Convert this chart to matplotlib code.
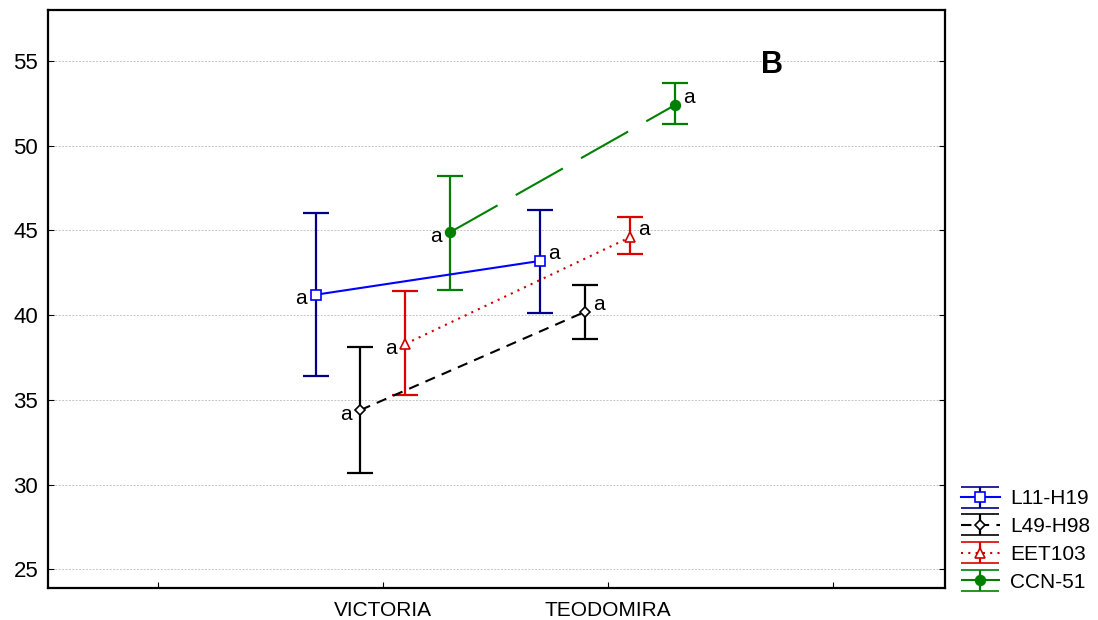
import matplotlib
matplotlib.use('Agg')
import matplotlib.pyplot as plt

plt.rcParams['font.family'] = ['Liberation Sans', 'DejaVu Sans']

sites = ['VICTORIA', 'TEODOMIRA']
clones = ['L11-H19', 'L49-H98', 'EET103', 'CCN-51']
means = {
    'L11-H19': [41.2, 43.2],
    'L49-H98': [34.4, 40.2],
    'EET103': [38.3, 44.6],
    'CCN-51': [44.9, 52.4],
}
lower = {
    'L11-H19': [36.4, 40.1],
    'L49-H98': [30.7, 38.6],
    'EET103': [35.3, 43.6],
    'CCN-51': [41.5, 51.3],
}
upper = {
    'L11-H19': [46.0, 46.2],
    'L49-H98': [38.1, 41.8],
    'EET103': [41.4, 45.8],
    'CCN-51': [48.2, 53.7],
}
letters = {
    'L11-H19': ['a', 'a'],
    'L49-H98': ['a', 'a'],
    'EET103': ['a', 'a'],
    'CCN-51': ['a', 'a'],
}

# styling per clone
offsets = [-0.3, -0.1, 0.1, 0.3]
line_col = ['#0000ff', 'black', '#cc0000', '#008000']
err_col = ['#00008b', 'black', '#dd0000', '#008000']
styles = ['-', (0, (5, 3.5)), (0, (1, 2.5)), (0, (26, 10))]
markers = ['s', 'D', '^', 'o']
mfc = ['white', 'white', 'white', '#008000']
msize = [7, 5, 7, 7]

fig = plt.figure(figsize=(10.98, 6.20), dpi=100)
ax = fig.add_axes([0.0437, 0.0516, 0.817, 0.9323])

handles = []
for i, c in enumerate(clones):
    xs = [k + 1 + offsets[i] for k in range(len(sites))]
    m = means[c]
    yerr = [[m[k] - lower[c][k] for k in range(2)], [upper[c][k] - m[k] for k in range(2)]]
    ax.errorbar(xs, m, yerr=yerr, fmt='none', ecolor=err_col[i], elinewidth=1.6,
                capsize=9.4, capthick=1.6, zorder=2)
    ax.plot(xs, m, color=line_col[i], linestyle=styles[i], lw=1.5, zorder=3)
    ax.plot(xs, m, linestyle='none', marker=markers[i], markersize=msize[i],
            markerfacecolor=mfc[i], markeredgecolor=line_col[i], markeredgewidth=1.2, zorder=4)
    ax.text(xs[0] - 0.04, m[0] - 0.25, letters[c][0], ha='right', va='center', fontsize=15)
    ax.text(xs[1] + 0.035, m[1] + 0.45, letters[c][1], ha='left', va='center', fontsize=15)

    # legend proxy, placed outside the view so only the legend shows it
    h = ax.errorbar([-10, -9], [0, 0], yerr=[1, 1], color=line_col[i], ecolor=err_col[i],
                    linestyle=styles[i], lw=1.5, marker=markers[i], markersize=msize[i],
                    markerfacecolor=mfc[i], markeredgecolor=line_col[i], markeredgewidth=1.2,
                    capsize=13.5, elinewidth=1.6, capthick=1.6)
    handles.append(h)

ax.legend(handles, clones, loc='lower left', bbox_to_anchor=(1.004, -0.028), frameon=False,
          fontsize=15, handlelength=1.85, handletextpad=0.5, labelspacing=0.42,
          borderaxespad=0.2)

ax.text(2.73, 54.75, 'B', fontsize=22, fontweight='bold', ha='center', va='center')

ax.set_xlim(-0.49, 3.5)
ax.set_ylim(23.9, 58.0)
ax.set_xticks([0, 1, 2, 3])
ax.set_xticklabels(['', 'VICTORIA', 'TEODOMIRA', ''], fontsize=15)
ax.set_yticks([25, 30, 35, 40, 45, 50, 55])
ax.tick_params(axis='y', labelsize=16, direction='in', right=True, length=4, pad=7)
ax.tick_params(axis='x', direction='in', length=4, pad=9)
ax.grid(axis='y', color='#c4c4c4', linestyle=(0, (2, 1.5)), lw=0.7)
ax.set_axisbelow(True)
for s in ax.spines.values():
    s.set_linewidth(1.6)

fig.savefig('out.png', dpi=100)
